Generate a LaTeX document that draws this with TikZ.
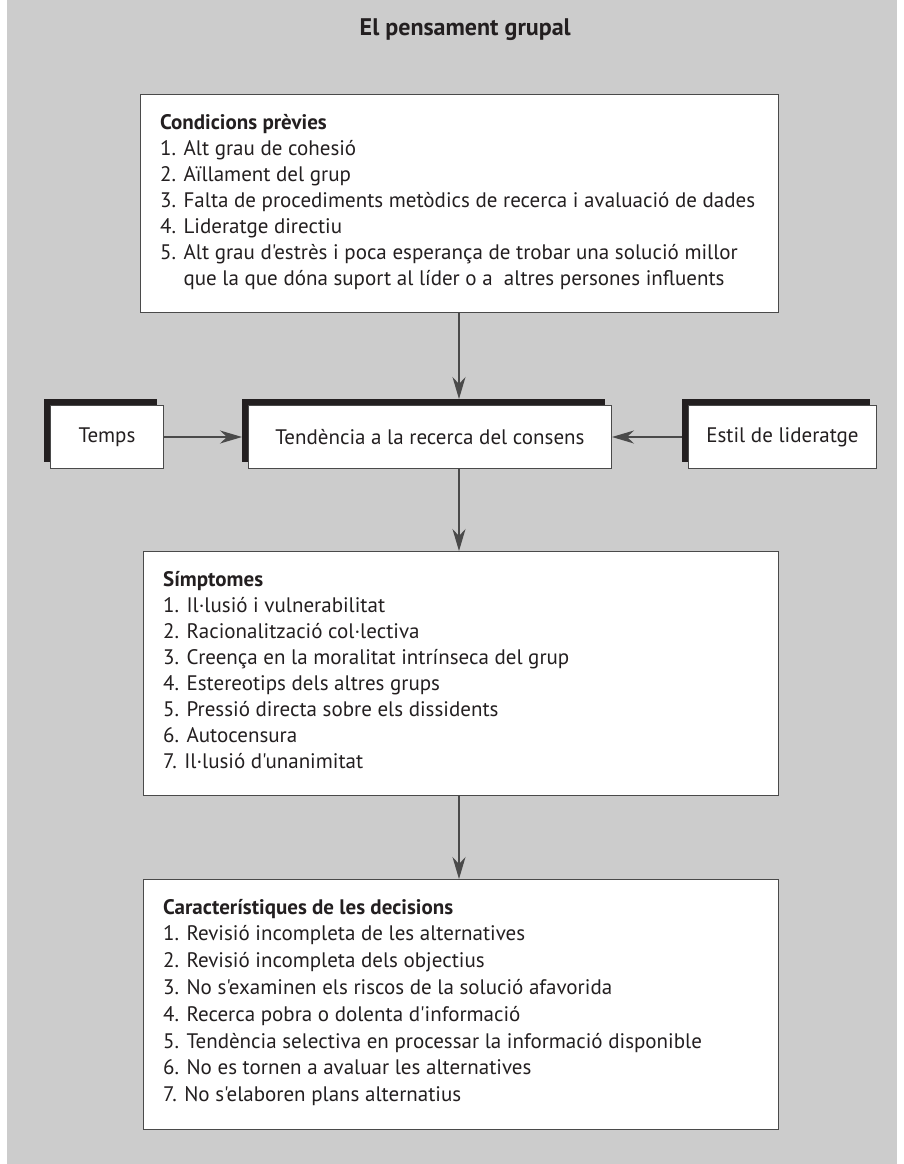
\documentclass[tikz,border=0pt]{standalone}
\usepackage{fontspec}
\setmainfont{PT Sans}[Ligatures=TeXOff]
\usetikzlibrary{arrows.meta}
\definecolor{bggray}{HTML}{CCCCCC}
\definecolor{ink}{HTML}{231F20}
\definecolor{rule}{HTML}{4A4A4A}
\begin{document}
\begin{tikzpicture}[x=1pt,y=-1pt,
  panel/.style={draw=rule, line width=1pt, fill=white, inner sep=0pt, anchor=north west},
  shade/.style={fill=ink, draw=none, inner sep=0pt, anchor=north west},
  txt/.style={font=\fontsize{21}{26}\selectfont, text=ink, inner sep=0pt, anchor=base west},
  head/.style={txt, font=\fontsize{21}{26}\selectfont\bfseries},
  label/.style={font=\fontsize{21}{26}\selectfont, text=ink},
  link/.style={draw=rule, line width=1.2pt, -{Stealth[length=22pt,width=13pt,inset=7pt]}}
]
\useasboundingbox (0,0) rectangle (904,1164);
\fill[bggray] (7,0) rectangle (897,1164);

% title
\node[font=\fontsize{24}{28}\selectfont\bfseries, text=ink, inner sep=0pt, anchor=base east] (title) at (571,36) {El pensament grupal};

% preconditions
\node[panel, minimum width=638pt, minimum height=218pt] (cond) at (140,94) {};
\node[head] (condh) at (160,129) {Condicions prèvies};
\foreach \t [count=\i] in {1. Alt grau de cohesió,
  2. Aïllament del grup,
  3. Falta de procediments metòdics de recerca i avaluació de dades,
  4. Lideratge directiu,
  5. Alt grau d'estrès i poca esperança de trobar una solució millor,
  \phantom{5. }que la que dóna suport al líder o a\ \ altres persones influents}
  \node[txt] (cond-\i) at (160,129+26*\i) {\t};

% middle row: boxes with a dark offset shadow
\node[shade, minimum width=363pt, minimum height=63pt] (tendsh) at (242,399) {};
\node[panel, minimum width=363pt, minimum height=63pt] (tend) at (248,405) {};
\node[label] (tendt) at (tend.center) {Tendència a la recerca del consens};

\node[shade, minimum width=113pt, minimum height=63pt] (tempssh) at (44,399) {};
\node[panel, minimum width=113pt, minimum height=63pt] (temps) at (50,405) {};
\node[label] (tempst) at (temps.center) {Temps};

\node[shade, minimum width=188pt, minimum height=63pt] (estilsh) at (682,399) {};
\node[panel, minimum width=188pt, minimum height=63pt] (estil) at (688,405) {};
\node[label] (estilt) at (estil.center) {Estil de lideratge};

% symptoms
\node[panel, minimum width=635pt, minimum height=244pt] (symp) at (143,551) {};
\node[head] (symph) at (163,586) {Símptomes};
\foreach \t [count=\i] in {1. Il·lusió i vulnerabilitat,
  2. Racionalització col·lectiva,
  3. Creença en la moralitat intrínseca del grup,
  4. Estereotips dels altres grups,
  5. Pressió directa sobre els dissidents,
  6. Autocensura,
  7. Il·lusió d'unanimitat}
  \node[txt] (symp-\i) at (163,586+26*\i) {\t};

% decision characteristics
\node[panel, minimum width=635pt, minimum height=250pt] (dec) at (143,879) {};
\node[head] (dech) at (163,914) {Característiques de les decisions};
\foreach \t [count=\i] in {1. Revisió incompleta de les alternatives,
  2. Revisió incompleta dels objectius,
  3. No s'examinen els riscos de la solució afavorida,
  4. Recerca pobra o dolenta d'informació,
  5. Tendència selectiva en processar la informació disponible,
  6. No es tornen a avaluar les alternatives,
  7. No s'elaboren plans alternatius}
  \node[txt] (dec-\i) at (163,914+26.8*\i) {\t};

% connectors
\coordinate (axis) at (459,0);
\draw[link] (cond.south -| axis) -- (tendsh.north -| axis);
\draw[link] (tend.south -| axis) -- (symp.north -| axis);
\draw[link] (symp.south -| axis) -- (dec.north -| axis);
\draw[link] (temps.east) -- (tendsh.west |- temps.east);
\draw[link] (estilsh.west |- estil.west) -- (tend.east);
\end{tikzpicture}
\end{document}
